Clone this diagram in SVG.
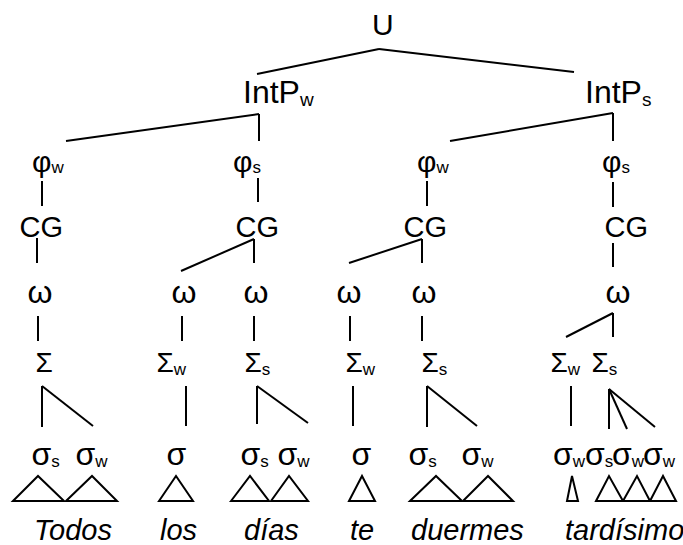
<svg xmlns="http://www.w3.org/2000/svg" width="683" height="545" viewBox="0 0 683 545">
  <style>
    text { font-family: "Liberation Sans", Arial, sans-serif; fill: #000; }
    .lbl { font-size: 29px; }
    .top { font-size: 30px; }
    .ip { font-size: 32px; }
    .phi { font-size: 30px; }
    .sig { font-size: 28px; }
    .om { font-size: 32px; }
    .syl { font-size: 32px; }
    .sub { font-size: 17px; }
    .ip-sub { font-size: 19px; }
    .word { font-size: 29px; font-style: italic; }
    .edges line { stroke: #000; stroke-width: 2; fill: none; }
    .tri { stroke: #000; stroke-width: 2; fill: none; stroke-linejoin: miter; }
  </style>

  <!-- tree connectors -->
  <g id="connectors" class="edges">
    <line x1="379" y1="49" x2="257" y2="74"/>
    <line x1="379" y1="49" x2="574" y2="72"/>
    <line x1="259" y1="114" x2="66" y2="141"/>
    <line x1="259" y1="114" x2="259" y2="141"/>
    <line x1="613" y1="113" x2="450" y2="141"/>
    <line x1="613" y1="113" x2="613" y2="141"/>
    <line x1="42" y1="181" x2="42" y2="206"/>
    <line x1="258" y1="178" x2="258" y2="202"/>
    <line x1="427" y1="181" x2="427" y2="206"/>
    <line x1="613" y1="182" x2="613" y2="207"/>
    <line x1="37" y1="238" x2="37" y2="263"/>
    <line x1="254" y1="239" x2="181" y2="271"/>
    <line x1="254" y1="239" x2="254" y2="263"/>
    <line x1="422" y1="239" x2="349" y2="263"/>
    <line x1="422" y1="239" x2="422" y2="263"/>
    <line x1="613" y1="243" x2="613" y2="267"/>
    <line x1="38" y1="316" x2="38" y2="341"/>
    <line x1="182" y1="316" x2="182" y2="341"/>
    <line x1="254" y1="316" x2="254" y2="341"/>
    <line x1="350" y1="316" x2="350" y2="341"/>
    <line x1="422" y1="316" x2="422" y2="341"/>
    <line x1="613" y1="313" x2="566" y2="337"/>
    <line x1="613" y1="313" x2="613" y2="337"/>
    <line x1="42" y1="386" x2="42" y2="427"/>
    <line x1="42" y1="386" x2="93" y2="426"/>
    <line x1="186" y1="386" x2="186" y2="426"/>
    <line x1="257" y1="386" x2="257" y2="424"/>
    <line x1="257" y1="386" x2="308" y2="423"/>
    <line x1="353" y1="386" x2="353" y2="426"/>
    <line x1="427" y1="386" x2="427" y2="427"/>
    <line x1="427" y1="386" x2="477" y2="426"/>
    <line x1="571" y1="386" x2="571" y2="426"/>
    <line x1="609" y1="389" x2="609" y2="429"/>
    <line x1="609" y1="389" x2="627" y2="429"/>
    <line x1="609" y1="389" x2="655" y2="427"/>
  </g>

  <!-- utterance and intonational phrases -->
  <g id="n-U"><text class="top" x="372" y="35">U</text></g>
  <g id="n-IntPw"><text class="ip" x="243" y="103">IntP<tspan class="ip-sub" dy="3">w</tspan></text></g>
  <g id="n-IntPs"><text class="ip" x="585" y="103">IntP<tspan class="ip-sub" dy="3">s</tspan></text></g>

  <!-- phonological phrases -->
  <g id="n-phi1"><text class="phi" x="32" y="172">φ<tspan class="sub" dy="1">w</tspan></text></g>
  <g id="n-phi2"><text class="phi" x="233" y="172">φ<tspan class="sub" dy="1">s</tspan></text></g>
  <g id="n-phi3"><text class="phi" x="417" y="172">φ<tspan class="sub" dy="1">w</tspan></text></g>
  <g id="n-phi4"><text class="phi" x="602" y="172">φ<tspan class="sub" dy="1">s</tspan></text></g>

  <!-- clitic groups -->
  <g id="n-CG1"><text class="lbl" x="19.5" y="237">CG</text></g>
  <g id="n-CG2"><text class="lbl" x="235.5" y="237">CG</text></g>
  <g id="n-CG3"><text class="lbl" x="403.5" y="237">CG</text></g>
  <g id="n-CG4"><text class="lbl" x="604.5" y="237">CG</text></g>

  <!-- prosodic words -->
  <g id="n-om1"><text class="om" x="27.5" y="303">ω</text></g>
  <g id="n-om2"><text class="om" x="171.5" y="303">ω</text></g>
  <g id="n-om3"><text class="om" x="243.5" y="303">ω</text></g>
  <g id="n-om4"><text class="om" x="336.5" y="303">ω</text></g>
  <g id="n-om5"><text class="om" x="411.5" y="303">ω</text></g>
  <g id="n-om6"><text class="om" x="605.5" y="303">ω</text></g>

  <!-- feet -->
  <g id="n-F1"><text class="sig" x="35.5" y="372">Σ</text></g>
  <g id="n-F2"><text class="sig" x="156.5" y="372">Σ<tspan class="sub" dy="3">w</tspan></text></g>
  <g id="n-F3"><text class="sig" x="244.5" y="372">Σ<tspan class="sub" dy="3">s</tspan></text></g>
  <g id="n-F4"><text class="sig" x="345.5" y="372">Σ<tspan class="sub" dy="3">w</tspan></text></g>
  <g id="n-F5"><text class="sig" x="421.5" y="372">Σ<tspan class="sub" dy="3">s</tspan></text></g>
  <g id="n-F6"><text class="sig" x="550.5" y="372">Σ<tspan class="sub" dy="3">w</tspan></text></g>
  <g id="n-F7"><text class="sig" x="591.5" y="372">Σ<tspan class="sub" dy="3">s</tspan></text></g>

  <!-- syllables -->
  <g id="n-s1"><text class="syl" x="31.5" y="465">σ<tspan class="sub" dy="2">s</tspan></text></g>
  <g id="n-s2"><text class="syl" x="75.5" y="465">σ<tspan class="sub" dy="2">w</tspan></text></g>
  <g id="n-s3"><text class="syl" x="166.5" y="465">σ</text></g>
  <g id="n-s4"><text class="syl" x="240.5" y="465">σ<tspan class="sub" dy="2">s</tspan></text></g>
  <g id="n-s5"><text class="syl" x="277.5" y="465">σ<tspan class="sub" dy="2">w</tspan></text></g>
  <g id="n-s6"><text class="syl" x="351.5" y="465">σ</text></g>
  <g id="n-s7"><text class="syl" x="408.5" y="465">σ<tspan class="sub" dy="2">s</tspan></text></g>
  <g id="n-s8"><text class="syl" x="461.5" y="465">σ<tspan class="sub" dy="2">w</tspan></text></g>
  <g id="n-s9"><text class="syl" x="553" y="465">σ<tspan class="sub" dy="2">w</tspan></text></g>
  <g id="n-s10"><text class="syl" x="585" y="465">σ<tspan class="sub" dy="2">s</tspan></text></g>
  <g id="n-s11"><text class="syl" x="612" y="465">σ<tspan class="sub" dy="2">w</tspan></text></g>
  <g id="n-s12"><text class="syl" x="643" y="465">σ<tspan class="sub" dy="2">w</tspan></text></g>

  <!-- segmental content of each syllable -->
  <g id="segments" class="tri">
    <polygon points="13,501 38,476 64,501"/>
    <polygon points="66,501 92,476 117,501"/>
    <polygon points="159,501 176,476 193,501"/>
    <polygon points="231,501 250,476 269,501"/>
    <polygon points="271,501 289,476 308,501"/>
    <polygon points="349,501 362,476 375,501"/>
    <polygon points="410,501 436,476 462,501"/>
    <polygon points="463,501 488,476 513,501"/>
    <polygon points="567,501 572,476 578,501"/>
    <polygon points="596,501 609,476 623,501"/>
    <polygon points="623,501 637,476 650,501"/>
    <polygon points="650,501 663,476 676,501"/>
  </g>

  <!-- words -->
  <g id="words">
    <text class="word" x="34" y="540">Todos</text>
    <text class="word" x="160" y="540">los</text>
    <text class="word" x="244" y="540">días</text>
    <text class="word" x="350" y="540">te</text>
    <text class="word" x="411" y="540">duermes</text>
    <text class="word" x="565" y="540">tardísimo</text>
  </g>
</svg>
